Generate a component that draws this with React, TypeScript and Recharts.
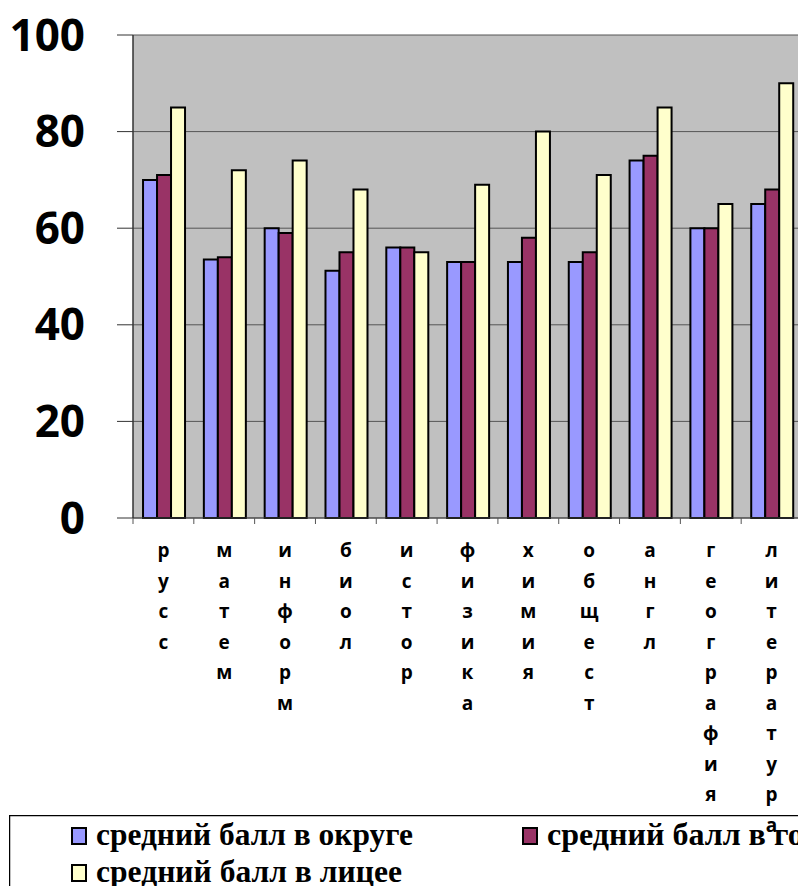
import React from 'react';
import { BarChart, Bar, XAxis, YAxis, CartesianGrid, Legend } from 'recharts';

const categories = ['русс', 'матем', 'информ', 'биол', 'истор', 'физика', 'химия', 'общест', 'англ', 'география', 'литература'];
const okrug = [70, 53.5, 60, 51.2, 56, 53, 53, 53, 74, 60, 65];
const gorod = [71, 54, 59, 55, 56, 53, 58, 55, 75, 60, 68];
const licey = [85, 72, 74, 68, 55, 69, 80, 71, 85, 65, 90];
const yTicks = [0, 20, 40, 60, 80, 100];
const seriesNames = ['средний балл в округе', 'средний балл в городе', 'средний балл в лицее'];

const data = categories.map((c, i) => ({ name: c, okrug: okrug[i], gorod: gorod[i], licey: licey[i] }));

const COLORS = ['#9999FF', '#993366', '#FFFFCC'];

const YTick = (props: any) => {
  const { y, payload } = props;
  return (
    <text x={85} y={y + 15.5} textAnchor="end" fontFamily="'Open Sans', sans-serif" fontWeight={700} fontSize={44} fill="#000">
      {payload.value}
    </text>
  );
};

const XTick = (props: any) => {
  const { x, y, payload } = props;
  const chars = String(payload.value).split('');
  const off = payload.offset || 0;
  return (
    <g>
      <line x1={x - off} x2={x - off} y1={y} y2={y + 6} stroke="#555" strokeWidth={1} />
      {chars.map((ch, i) => (
        <text key={i} x={x} y={y + 39 + i * 30.5} textAnchor="middle" fontFamily="'Open Sans', sans-serif" fontWeight={700} fontSize={19} fill="#000">
          {ch}
        </text>
      ))}
    </g>
  );
};

const LegendContent = () => {
  const font = "'Liberation Serif', 'Times New Roman', serif";
  return (
    <svg width={800} height={80} style={{ overflow: 'hidden', display: 'block' }}>
      <rect x={0.5} y={0.5} width={900} height={200} fill="none" stroke="#000" strokeWidth={1.5} />
      <rect x={63} y={13} width={14} height={16} fill={COLORS[0]} stroke="#000" strokeWidth={2} />
      <text x={87} y={30} fontFamily={font} fontWeight={700} fontSize={31} textLength={317} lengthAdjust="spacingAndGlyphs" fill="#000">{seriesNames[0]}</text>
      <rect x={514} y={13} width={14} height={16} fill={COLORS[1]} stroke="#000" strokeWidth={2} />
      <text x={538} y={30} fontFamily={font} fontWeight={700} fontSize={31} textLength={320} lengthAdjust="spacingAndGlyphs" fill="#000">{seriesNames[1]}</text>
      <rect x={63} y={50} width={14} height={16} fill={COLORS[2]} stroke="#000" strokeWidth={2} />
      <text x={87} y={67} fontFamily={font} fontWeight={700} fontSize={31} textLength={306} lengthAdjust="spacingAndGlyphs" fill="#000">{seriesNames[2]}</text>
    </svg>
  );
};

export default function App() {
  return (
    <div style={{ position: 'absolute', left: 0, top: 0, width: 798, height: 886, overflow: 'hidden', background: '#fff' }}>
      <BarChart
        width={802}
        height={886}
        data={data}
        margin={{ top: 35, right: 0, left: 0, bottom: 68 }}
        barCategoryGap="16.5%"
        barGap={0}
      >
        <CartesianGrid vertical={false} stroke="#555" fill="#C0C0C0" strokeWidth={1} />
        <XAxis
          dataKey="name"
          height={300}
          interval={0}
          tickSize={0}
          tickMargin={0}
          tickLine={false}
          axisLine={{ stroke: '#444', strokeWidth: 1 }}
          tick={<XTick />}
        />
        <YAxis
          width={133}
          domain={[0, 100]}
          ticks={yTicks}
          interval={0}
          tickSize={16}
          tickLine={{ stroke: '#333', strokeWidth: 1 }}
          axisLine={{ stroke: '#333', strokeWidth: 1.5 }}
          tick={<YTick />}
        />
        <Legend
          layout="horizontal"
          verticalAlign="middle"
          align="center"
          content={<LegendContent />}
          wrapperStyle={{ position: 'absolute', left: 9, top: 815, width: 800, height: 80 }}
        />
        <Bar dataKey="okrug" name={seriesNames[0]} fill={COLORS[0]} stroke="#000" strokeWidth={2} isAnimationActive={false} />
        <Bar dataKey="gorod" name={seriesNames[1]} fill={COLORS[1]} stroke="#000" strokeWidth={2} isAnimationActive={false} />
        <Bar dataKey="licey" name={seriesNames[2]} fill={COLORS[2]} stroke="#000" strokeWidth={2} isAnimationActive={false} />
      </BarChart>
    </div>
  );
}
